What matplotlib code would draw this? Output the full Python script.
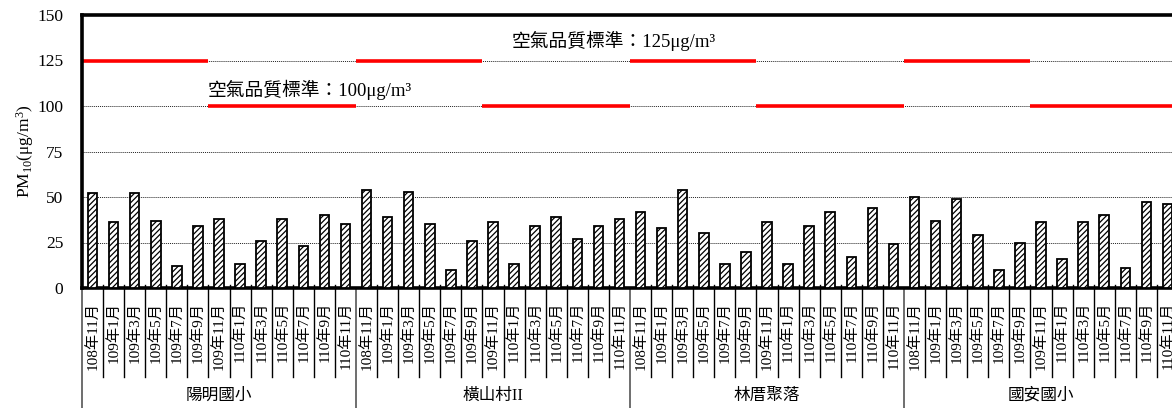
import matplotlib
matplotlib.use("Agg")
import matplotlib.pyplot as plt
import matplotlib.transforms as mtransforms
import numpy as np

plt.rcParams['font.family'] = ['Liberation Serif', 'Noto Sans CJK TC']
plt.rcParams['mathtext.fontset'] = 'custom'
plt.rcParams['mathtext.rm'] = 'Liberation Serif'
plt.rcParams['mathtext.it'] = 'Liberation Serif'
plt.rcParams['hatch.color'] = '#333333'
plt.rcParams['hatch.linewidth'] = 0.9

# ---- data ----
sites = ['陽明國小', '橫山村II', '林厝聚落', '國安國小']
months = ['108年11月', '109年1月', '109年3月', '109年5月', '109年7月', '109年9月',
          '109年11月', '110年1月', '110年3月', '110年5月', '110年7月', '110年9月', '110年11月']
pm10_yangming = [52, 36, 52, 37, 12, 34, 38, 13, 26, 38, 23, 40, 35]
pm10_hengshan = [54, 39, 53, 35, 10, 26, 36, 13, 34, 39, 27, 34, 38]
pm10_linco = [42, 33, 54, 30, 13, 20, 36, 13, 34, 42, 17, 44, 24]
pm10_guoan = [50, 37, 49, 29, 10, 25, 36, 16, 36, 40, 11, 47, 46]
std_old = 125   # 標準 (前 6 次)
std_new = 100   # 標準 (後 7 次)
n_old = 6
yticks = [0, 25, 50, 75, 100, 125, 150]

values = pm10_yangming + pm10_hengshan + pm10_linco + pm10_guoan
labels = months * len(sites)
n = len(months)
x = np.arange(len(values))

W, H = 1172, 408
fig = plt.figure(figsize=(W / 100, H / 100), dpi=100)
ax = fig.add_axes([82 / W, (H - 288) / H, (1178 - 82) / W, (288 - 15) / H])

ax.set_xlim(-0.5, len(values) - 0.5)
ax.set_ylim(0, 150)

# grid
for v in yticks[1:-1]:
    ax.axhline(v, color='#222222', linestyle=(0, (1, 1)), linewidth=0.7, zorder=1)

# standard lines
for g in range(len(sites)):
    s = g * n - 0.5
    ax.hlines(std_old, s, s + n_old, color='#ff0000', linewidth=2.6, zorder=2)
    ax.hlines(std_new, s + n_old, s + n, color='#ff0000', linewidth=2.6, zorder=2)

ax.bar(x, values, width=0.45, facecolor='white', edgecolor='black',
       hatch='//////', linewidth=1.3, zorder=3)

ax.text(19.9, 136, f'空氣品質標準：{std_old}μg/m³', ha='left', va='center', fontsize=13.5)
ax.text(5.45, 109, f'空氣品質標準：{std_new}μg/m³', ha='left', va='center', fontsize=13.5)

# axes styling
for side in ['top', 'left', 'bottom', 'right']:
    ax.spines[side].set_linewidth(2.6)
ax.set_yticks(yticks)
ax.set_yticklabels([str(v) for v in yticks], fontsize=12.5)
ax.tick_params(axis='y', length=0, pad=13.5)
ax.set_xticks(x)
ax.set_xticklabels(labels, rotation=90, va='top', ha='center', fontsize=11)
ax.tick_params(axis='x', length=0, pad=10)
ax.set_ylabel('PM$_{10}$(μg/m$^{3}$)', fontsize=12.5, labelpad=1)

trans = mtransforms.blended_transform_factory(ax.transData, ax.transAxes)
axh = 288 - 15
low = -(377 - 288) / axh
for i in range(len(values) + 1):
    xb = i - 0.5
    if i % n == 0:
        ax.plot([xb, xb], [0, -0.6], transform=trans, color='#555555', lw=1.2, clip_on=False)
    else:
        ax.plot([xb, xb], [0.012, low], transform=trans, color='black', lw=1.0, clip_on=False)

for g, name in enumerate(sites):
    ax.text(g * n + (n - 1) / 2, -(396 - 288) / axh, name, transform=trans,
            ha='center', va='center', fontsize=12)

fig.savefig('out.png', dpi=100)
